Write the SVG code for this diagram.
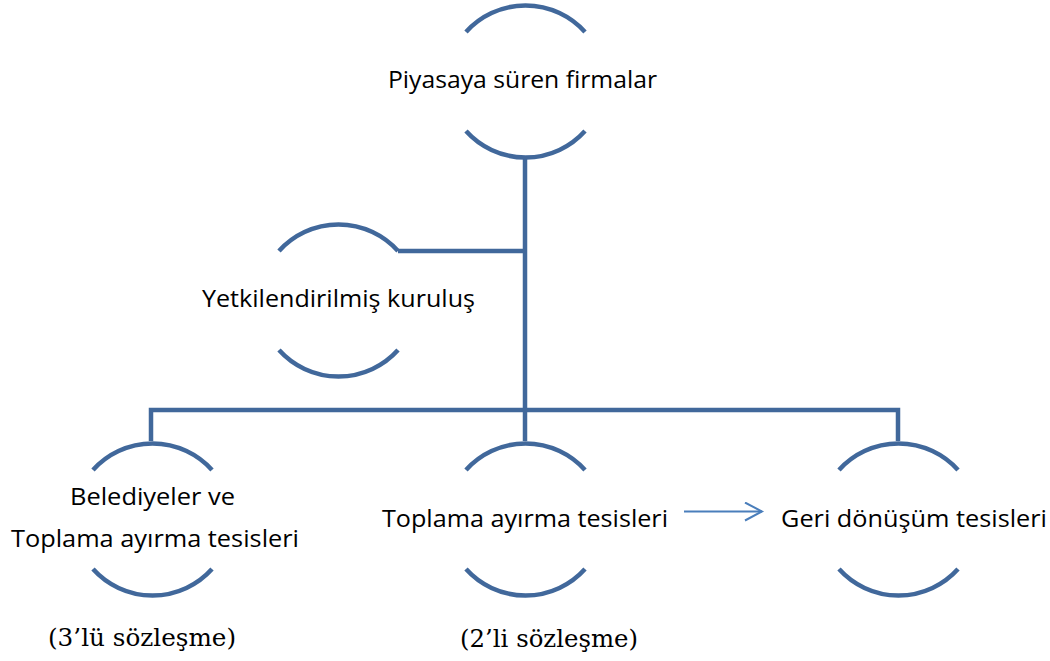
<svg xmlns="http://www.w3.org/2000/svg" width="1050" height="661" viewBox="0 0 1050 661">
<defs>
<style>
.arc{fill:none;stroke:#41689b;stroke-width:4.5}
.con{fill:none;stroke:#41689b;stroke-width:4.5}
.lbl{font-family:"Open Sans","Noto Sans","Liberation Sans",sans-serif;font-size:23px;fill:#000}
.ser{font-family:"DejaVu Serif","Liberation Serif",serif;font-size:24.5px;fill:#000}
</style>
<marker id="ah" viewBox="0 0 20 20" refX="18" refY="10" markerWidth="20" markerHeight="20" markerUnits="userSpaceOnUse" orient="auto">
<path d="M1,1 L18,10 L1,19" fill="none" stroke="#4a7ebb" stroke-width="2"/>
</marker>
</defs>
<rect width="1050" height="661" fill="#fff"/>
<g id="connectors">
<path class="con" d="M525,156 V410"/>
<path class="con" d="M398,251 H525"/>
<path class="con" d="M151,441 V410 H898 V441"/>
<path class="con" d="M525,410 V441"/>
<path d="M684,511.5 H762" fill="none" stroke="#4a7ebb" stroke-width="2" marker-end="url(#ah)"/>
</g>
<g id="node-piyasaya">
<path class="arc" d="M466,32 A80,80 0 0 1 585,32"/>
<path class="arc" d="M466,131 A80,80 0 0 0 585,131"/>
<text class="lbl" x="388" y="88" textLength="269" lengthAdjust="spacingAndGlyphs">Piyasaya süren firmalar</text>
</g>
<g id="node-yetkili">
<path class="arc" d="M279,251 A80,80 0 0 1 398,251"/>
<path class="arc" d="M279,350 A80,80 0 0 0 398,350"/>
<text class="lbl" x="202" y="307" textLength="273" lengthAdjust="spacingAndGlyphs">Yetkilendirilmiş kuruluş</text>
</g>
<g id="node-belediye">
<path class="arc" d="M93,470 A80,80 0 0 1 212,470"/>
<path class="arc" d="M93,569 A80,80 0 0 0 212,569"/>
<text class="lbl" x="70" y="505" textLength="165" lengthAdjust="spacingAndGlyphs">Belediyeler ve</text>
<text class="lbl" x="11" y="547" textLength="288" lengthAdjust="spacingAndGlyphs">Toplama ayırma tesisleri</text>
<text class="ser" x="48" y="646" textLength="188" lengthAdjust="spacingAndGlyphs">(3’lü sözleşme)</text>
</g>
<g id="node-toplama">
<path class="arc" d="M466,470 A80,80 0 0 1 585,470"/>
<path class="arc" d="M466,569 A80,80 0 0 0 585,569"/>
<text class="lbl" x="382" y="527" textLength="286" lengthAdjust="spacingAndGlyphs">Toplama ayırma tesisleri</text>
<text class="ser" x="460" y="647" textLength="178" lengthAdjust="spacingAndGlyphs">(2’li sözleşme)</text>
</g>
<g id="node-geri">
<path class="arc" d="M839,470 A80,80 0 0 1 958,470"/>
<path class="arc" d="M839,569 A80,80 0 0 0 958,569"/>
<text class="lbl" x="781" y="527" textLength="266" lengthAdjust="spacingAndGlyphs">Geri dönüşüm tesisleri</text>
</g>
</svg>
